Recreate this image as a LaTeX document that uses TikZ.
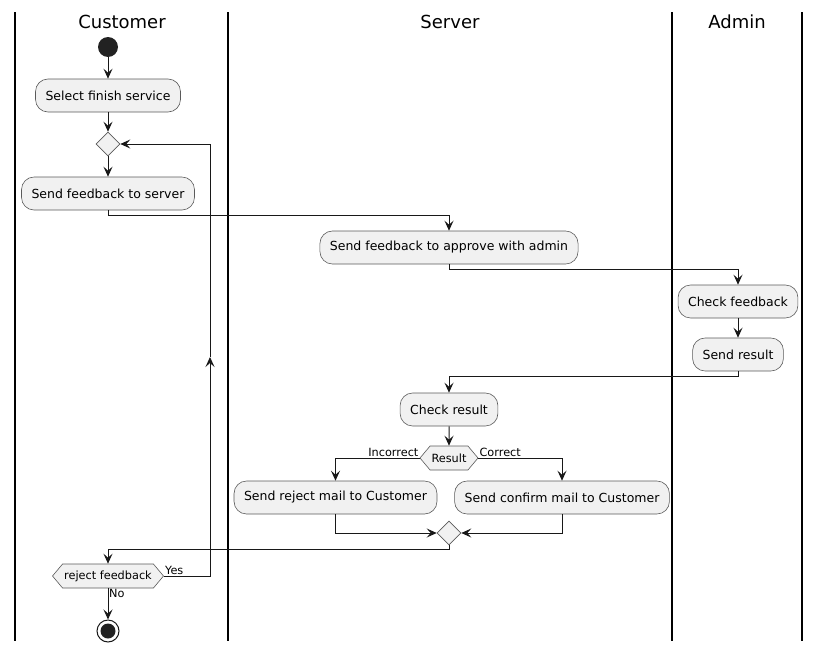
\documentclass[tikz,border=0pt]{standalone}
\usepackage{fontspec}
\setmainfont{DejaVu Sans}
\usetikzlibrary{arrows.meta,shapes.geometric,shapes.symbols,calc}
\definecolor{actfill}{HTML}{F1F1F1}
\definecolor{actline}{HTML}{181818}
\definecolor{edgegray}{HTML}{5A5A5A}
\definecolor{dotfill}{HTML}{222222}
\tikzset{
  act/.style={draw=edgegray, line width=0.6pt, fill=actfill, rounded corners=12.5pt,
    minimum height=33pt, inner xsep=10pt, inner ysep=0pt, font=\fontsize{12.5}{14}\selectfont},
  choice/.style={diamond, draw=edgegray, line width=0.6pt, fill=actfill,
    minimum width=24pt, minimum height=24pt, inner sep=0pt},
  hexa/.style={signal, signal to=west and east, signal pointer angle=100, draw=edgegray,
    line width=0.6pt, fill=actfill, minimum height=24pt, inner sep=0pt,
    font=\fontsize{11.3}{13}\selectfont},
  flow/.style={draw=actline, line width=1pt, -{Stealth[length=10pt,width=9pt,inset=4pt]}},
  lane/.style={draw=black, line width=1.5pt},
  lanetitle/.style={font=\fontsize{18}{21}\selectfont},
  edgelabel/.style={font=\fontsize{11.3}{13}\selectfont, inner sep=1pt},
}
\begin{document}
\begin{tikzpicture}[x=1pt, y=-1pt]
\useasboundingbox (0,0) rectangle (821,653);

% swimlane separators and titles
\foreach \lx in {15,228,672,802} \draw[lane] (\lx,12) -- (\lx,641);
\node[lanetitle] (tcust) at (122,22) {Customer};
\node[lanetitle] (tserv) at (450,22) {Server};
\node[lanetitle] (tadm)  at (737,22) {Admin};

% Customer lane
\node[circle, fill=dotfill, minimum size=20pt, inner sep=0pt] (start) at (108,47) {};
\node[act] (sel) at (108,95.5) {Select finish service};
\node[choice] (d1) at (108,144) {};
\node[act] (sendfb) at (108,193.5) {Send feedback to server};

% Server lane
\node[act] (appr) at (449,247.5) {Send feedback to approve with admin};

% Admin lane
\node[act] (chk) at (738,301.5) {Check feedback};
\node[act] (res) at (738,354.5) {Send result};

% Server lane, result handling
\node[act] (cres) at (449,409.5) {Check result};
\node[hexa, minimum width=58pt] (rd) at (449,458) {Result};
\node[act] (rej) at (335.5,497.5) {Send reject mail to Customer};
\node[act] (conf) at (562,497.5) {Send confirm mail to Customer};
\node[choice] (d2) at (449,533) {};

% back in Customer lane
\node[hexa, minimum width=111pt] (rf) at (108,576) {reject feedback};
\node[circle, draw=actline, line width=1pt, fill=white, minimum size=22pt, inner sep=0pt] (stop) at (108,631) {};
\fill[dotfill] (stop.center) circle (7.5pt);

% connectors
\draw[flow] (start) -- (sel);
\draw[flow] (sel) -- (d1);
\draw[flow] (d1) -- (sendfb);
\draw[flow] (sendfb.south) -- ++(0,5) -| (appr.north);
\draw[flow] (appr.south) -- ++(0,5) -| (chk.north);
\draw[flow] (chk) -- (res);
\draw[flow] (res.south) -- ++(0,5) -| (cres.north);
\draw[flow] (cres) -- (rd);
\draw[flow] (rd.west) -| (rej.north);
\draw[flow] (rd.east) -| (conf.north);
\node[edgelabel, anchor=south east] (lblinc) at (rd.west) {Incorrect};
\node[edgelabel, anchor=south west] (lblcor) at (rd.east) {Correct};
\draw[flow] (rej.south) |- (d2.west);
\draw[flow] (conf.south) |- (d2.east);
\draw[flow] (d2.south) -- ++(0,4) -| (rf.north);

% loop back on "Yes"
\coordinate (loopmid) at (210,357);
\draw[flow] (rf.east) -| (loopmid);
\draw[flow] (loopmid) |- (d1.east);
\node[edgelabel, anchor=south west] (lblyes) at (rf.east) {Yes};

% finish on "No"
\draw[flow] (rf.south) -- (stop);
\node[edgelabel, anchor=north west] (lblno) at (rf.south) {No};
\end{tikzpicture}
\end{document}
